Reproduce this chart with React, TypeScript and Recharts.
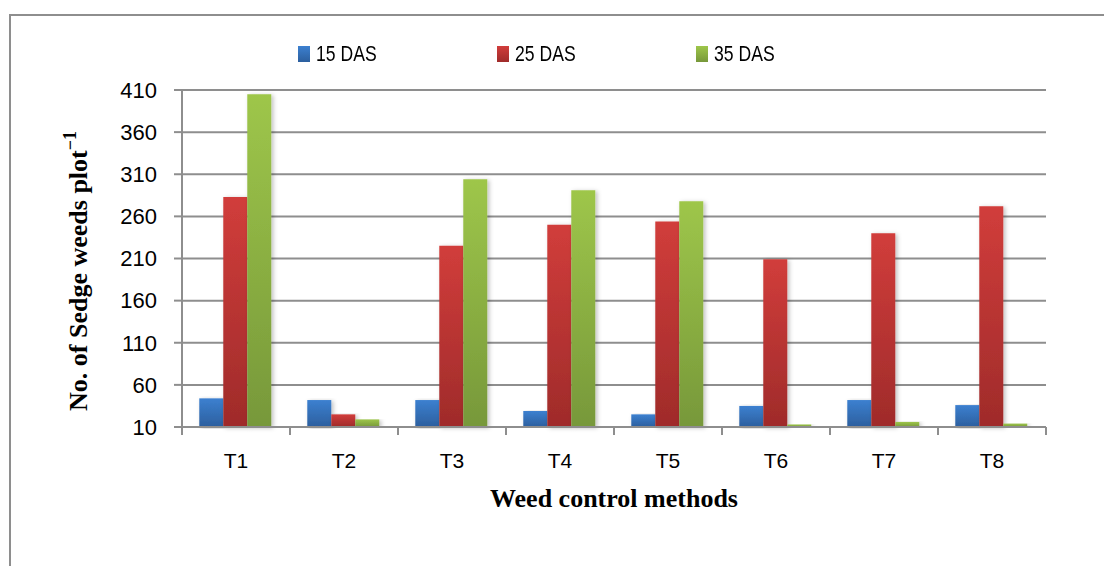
import React from 'react'
import { BarChart, Bar, XAxis, YAxis, CartesianGrid, Label } from 'recharts'

const categories = ['T1', 'T2', 'T3', 'T4', 'T5', 'T6', 'T7', 'T8']
const das15 = [44, 42, 42, 29, 25, 35, 42, 36]
const das25 = [283, 25, 225, 250, 254, 209, 240, 272]
const das35 = [405, 19, 304, 291, 278, 13, 16, 14]
const yTicks = [10, 60, 110, 160, 210, 260, 310, 360, 410]

const series = [
  { key: 'd15', name: '15 DAS', top: '#3c80d0', bottom: '#2c5f9e' },
  { key: 'd25', name: '25 DAS', top: '#d13d3b', bottom: '#9f2b2a' },
  { key: 'd35', name: '35 DAS', top: '#9ec64a', bottom: '#77983a' },
]

const data = categories.map((c, i) => ({ cat: c, d15: das15[i], d25: das25[i], d35: das35[i] }))

const W = 1104
const H = 566
const LEFT = 182
const RIGHT = 58
const GRID = '#8e8e8e'
const SANS = '"Liberation Sans", Arial, sans-serif'
const SERIF = '"Liberation Serif", "Times New Roman", serif'

const half = (W - LEFT - RIGHT) / categories.length / 2

function XTick(props: any) {
  const { x, y, payload, index } = props
  return (
    <g>
      <line x1={x - half} x2={x - half} y1={y} y2={y + 8} stroke={GRID} strokeWidth={2} />
      {index === categories.length - 1 && (
        <line x1={x + half} x2={x + half} y1={y} y2={y + 8} stroke={GRID} strokeWidth={2} />
      )}
      <text x={x} y={y + 41} textAnchor="middle" fontFamily={SANS} fontSize={21} fill="#000">
        {payload.value}
      </text>
    </g>
  )
}

// legend sits above the plot, one fixed-width slot per series
function LegendBox() {
  return (
    <div
      style={{
        position: 'absolute',
        left: 298,
        top: 41,
        display: 'flex',
        fontFamily: SANS,
        fontSize: 22,
        lineHeight: '26px',
        color: '#000',
      }}
    >
      {series.map((s) => (
        <div key={s.key} style={{ width: 199, display: 'flex', alignItems: 'center' }}>
          <span
            style={{
              display: 'inline-block',
              width: 12,
              height: 16,
              marginRight: 6,
              background: `linear-gradient(${s.top}, ${s.bottom})`,
            }}
          />
          <span style={{ display: 'inline-block', transform: 'scaleX(0.8)', transformOrigin: 'left center' }}>
            {s.name}
          </span>
        </div>
      ))}
    </div>
  )
}

export default function App() {
  return (
    <div style={{ position: 'absolute', left: 0, top: 0, width: W, height: H, background: '#fff', overflow: 'hidden' }}>
      <div
        style={{
          position: 'absolute',
          left: 9,
          top: 14,
          width: W,
          height: H,
          border: `2px solid ${GRID}`,
        }}
      />
      <BarChart
        width={W}
        height={H}
        data={data}
        margin={{ top: 90, right: RIGHT, left: 0, bottom: 0 }}
        barCategoryGap="16%"
        barGap={0}
        style={{ position: 'absolute', left: 0, top: 0 }}
      >
        <defs>
          {series.map((s) => (
            <linearGradient key={s.key} id={`g-${s.key}`} x1="0" y1="0" x2="0" y2="1">
              <stop offset="0%" stopColor={s.top} />
              <stop offset="100%" stopColor={s.bottom} />
            </linearGradient>
          ))}
          <filter id="shade" x="-20%" y="-5%" width="150%" height="110%">
            <feDropShadow dx="2" dy="1" stdDeviation="2" floodColor="#000" floodOpacity="0.25" />
          </filter>
        </defs>
        <CartesianGrid vertical={false} stroke={GRID} strokeWidth={2} />
        <XAxis
          dataKey="cat"
          height={H - 427}
          axisLine={{ stroke: GRID, strokeWidth: 2 }}
          tickLine={false}
          tickSize={0}
          tickMargin={0}
          tick={<XTick />}
          interval={0}
        >
          <Label
            content={(p: any) => {
              const vb = p.viewBox
              return (
                <text
                  x={vb.x + vb.width / 2}
                  y={507}
                  textAnchor="middle"
                  fontFamily={SERIF}
                  fontWeight="bold"
                  fontSize={26}
                  fill="#000"
                >
                  Weed control methods
                </text>
              )
            }}
          />
        </XAxis>
        <YAxis
          width={LEFT}
          domain={[10, 410]}
          ticks={yTicks}
          interval={0}
          axisLine={{ stroke: GRID, strokeWidth: 2 }}
          tickLine={{ stroke: GRID, strokeWidth: 2 }}
          tickSize={8}
          tickMargin={17}
          tick={{ fontFamily: SANS, fontSize: 22, fill: '#000' }}
        >
          <Label
            content={() => (
              <text
                transform="translate(87, 271) rotate(-90)"
                textAnchor="middle"
                fontFamily={SERIF}
                fontWeight="bold"
                fontSize={26}
                fill="#000"
              >
                No. of Sedge weeds plot
                <tspan dy={-11} fontSize={18}>−1</tspan>
              </text>
            )}
          />
        </YAxis>
        {series.map((s) => (
          <Bar
            key={s.key}
            dataKey={s.key}
            name={s.name}
            fill={`url(#g-${s.key})`}
            filter="url(#shade)"
            isAnimationActive={false}
          />
        ))}
      </BarChart>
      <LegendBox />
    </div>
  )
}
